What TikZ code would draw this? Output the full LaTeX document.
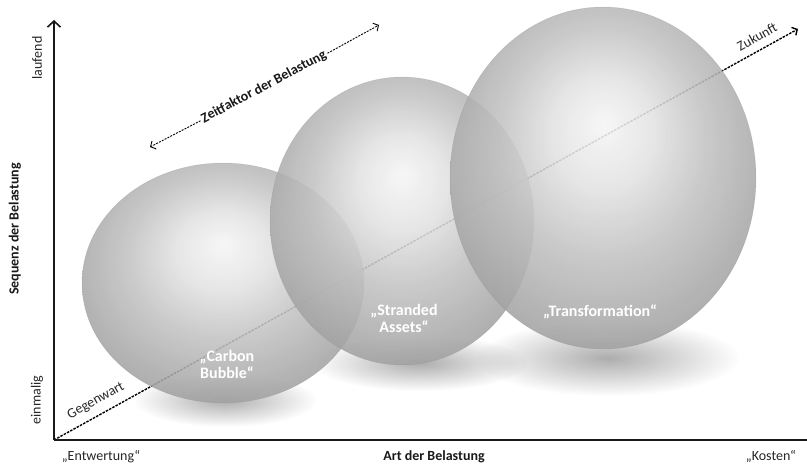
\documentclass[tikz,border=0pt]{standalone}
\usepackage{fontspec}
\setmainfont{Carlito}
\usetikzlibrary{arrows.meta,shapes.geometric,fadings}

% soft grey sphere: bright spot above the centre, darker towards the rim
\pgfdeclareradialshading{spherefill}{\pgfqpoint{0bp}{8bp}}{%
  color(0bp)=(black!4);
  color(8bp)=(black!11);
  color(17bp)=(black!24);
  color(25bp)=(black!33);
  color(33bp)=(black!41);
  color(50bp)=(black!43)}

% opaque centre, transparent rim
\tikzfading[name=softblob, inner color=transparent!0, outer color=transparent!100]

\tikzset{
  txt/.style={font=\fontsize{14}{16}\selectfont, text=black!85},
  txtb/.style={font=\bfseries\fontsize{14}{16}\selectfont, text=black!90},
  bubble/.style={ellipse, inner sep=0pt, shading=spherefill,
    fill opacity=0.88, draw=black!45, draw opacity=0.25, line width=0.5pt},
  bubblelabel/.style={align=center, text=white,
    font=\bfseries\fontsize{16}{17}\selectfont},
  shadowblob/.style={fill=black, fill opacity=0.32, path fading=softblob},
  axisline/.style={line width=2pt, black!90},
  timeline/.style={line width=1.4pt, dash pattern=on 2.5pt off 1.2pt},
  zeitline/.style={line width=0.9pt, dash pattern=on 2pt off 1.2pt,
    -{Straight Barb[length=4pt,width=9pt]}},
}

\begin{document}
\begin{tikzpicture}[x=1pt, y=-1pt]
\useasboundingbox (0,0) rectangle (807,465);

% axis end points
\coordinate (O) at (54,440);
\coordinate (ytop) at (54,20);
\coordinate (xend) at (807,440);
\coordinate (fut) at (798,29);

% soft shadows under the spheres
\fill[shadowblob] (225,400) ellipse [x radius=92, y radius=27];
\fill[shadowblob] (420,363) ellipse [x radius=108, y radius=28];
\fill[shadowblob] (608,358) ellipse [x radius=132, y radius=38];

% time line from present to future
\draw[timeline, -{Straight Barb[length=4pt,width=9pt]}] (O) -- (fut);

% the three spheres
\node[bubble, minimum width=282pt, minimum height=240pt] (carbon) at (223,283) {};
\node[bubble, minimum width=264pt, minimum height=288pt] (stranded) at (402,221) {};
\node[bubble, minimum width=306pt, minimum height=342pt] (transf) at (603,178) {};

% sphere labels
\node[bubblelabel] (lcarbon) at (227,364) {„Carbon\\Bubble“};
\node[bubblelabel] (lstranded) at (404,318) {„Stranded\\Assets“};
\node[bubblelabel] (ltransf) at (600,312) {„Transformation“};

% axes
\draw[axisline, -{Straight Barb[length=6pt,width=13pt,line width=1.6pt]}] (O) -- (ytop);
\draw[axisline] (O) -- (xend);

% axis captions
\node[txtb, rotate=90] (yname) at (15,229) {Sequenz der Belastung};
\node[txt, rotate=90] (ylauf) at (37,58) {laufend};
\node[txt, rotate=90] (yein) at (37,400) {einmalig};
\node[txt] (xentw) at (101,457) {„Entwertung“};
\node[txtb] (xname) at (434,457) {Art der Belastung};
\node[txt] (xkost) at (771,457) {„Kosten“};

% time line captions
\node[txt, rotate=29] (geg) at (96,401) {Gegenwart};
\node[txt, rotate=29] (zuk) at (757,37) {Zukunft};

% duration of the burden
\coordinate (zL) at (150,147);
\coordinate (zR) at (379,25);
\node[txtb, rotate=28, inner sep=2pt] (zt) at (264,87) {Zeitfaktor der Belastung};
\draw[zeitline] (zt.west) -- (zL);
\draw[zeitline] (zt.east) -- (zR);
\end{tikzpicture}
\end{document}
